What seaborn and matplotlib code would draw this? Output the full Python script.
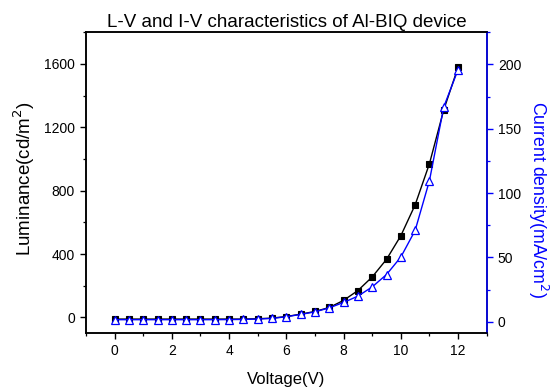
import numpy as np
import pandas as pd
import matplotlib
matplotlib.use("Agg")
import matplotlib.pyplot as plt
import seaborn as sns
from matplotlib.ticker import MultipleLocator

voltage = [0, 0.5, 1, 1.5, 2, 2.5, 3, 3.5, 4, 4.5, 5, 5.5, 6, 6.5, 7, 7.5, 8,
           8.5, 9, 9.5, 10, 10.5, 11, 11.5, 12]
luminance = [-10, -10, -10, -10, -10, -10, -10, -10, -10, -10, -8, -4, 6, 21,
             38, 63, 108, 170, 256, 367, 516, 711, 971, 1311, 1580]
current = [1.6, 1.6, 1.6, 1.6, 1.6, 1.6, 1.6, 1.6, 1.7, 1.8, 2.1, 2.6, 3.9, 5.7,
           7.7, 10.8, 15.0, 19.9, 27.1, 36.7, 50.3, 71.0, 109.7, 167.0, 196.0]

df = pd.DataFrame({"V": voltage, "L": luminance, "J": current})

sns.set_style("ticks")
plt.rcParams["font.family"] = ["Liberation Sans", "DejaVu Sans"]
plt.rcParams["xtick.direction"] = "out"
plt.rcParams["ytick.direction"] = "out"
for k in ["text.color", "axes.labelcolor", "xtick.color", "ytick.color",
          "axes.edgecolor"]:
    plt.rcParams[k] = "black"

fig = plt.figure(figsize=(5.5, 3.87), dpi=100)
ax = fig.add_axes([0.1564, 0.1387, 0.8849 - 0.1564, 0.9165 - 0.1387])
ax2 = ax.twinx()

sns.lineplot(data=df, x="V", y="L", ax=ax, color="black", marker="s",
             markersize=4.6, markerfacecolor="black", markeredgecolor="black",
             markeredgewidth=0.8, linewidth=1.0)
sns.lineplot(data=df, x="V", y="J", ax=ax2, color="blue", marker="^",
             markersize=5.6, markerfacecolor="white", markeredgecolor="blue",
             markeredgewidth=0.9, linewidth=1.0)

ax.set_xlim(-1, 13)
ax.set_ylim(-100, 1800)
ax2.set_ylim(-9, 225)

ax.xaxis.set_major_locator(MultipleLocator(2))
ax.xaxis.set_minor_locator(MultipleLocator(1))
ax.yaxis.set_major_locator(MultipleLocator(400))
ax.yaxis.set_minor_locator(MultipleLocator(200))
ax2.yaxis.set_major_locator(MultipleLocator(50))
ax2.yaxis.set_minor_locator(MultipleLocator(25))

for a in (ax, ax2):
    a.tick_params(which="major", length=4.5, width=1.0, labelsize=10)
    a.tick_params(which="minor", length=2.5, width=0.9)
    for s in a.spines.values():
        s.set_linewidth(1.1)
        s.set_visible(True)
        s.set_color("black")

ax2.spines["right"].set_color("blue")
ax2.tick_params(axis="y", which="both", color="blue", labelcolor="black")

ax.set_xlabel("Voltage(V)", fontsize=12, labelpad=10)
ax.set_ylabel("Luminance(cd/m$^2$)", fontsize=13.5, rotation=90,
              ha="center", va="center", rotation_mode="default")
ax.yaxis.set_label_coords(-0.155, 0.513)
ax2.set_ylabel("Current density(mA/cm$^2$)", fontsize=12.8, color="blue",
               rotation=270, ha="center", va="center",
               rotation_mode="default")
ax2.yaxis.set_label_coords(1.128, 0.446)
ax.set_title("L-V and I-V characteristics of Al-BIQ device", fontsize=13.5,
             pad=4, color="black")

fig.savefig("out.png", dpi=100)
